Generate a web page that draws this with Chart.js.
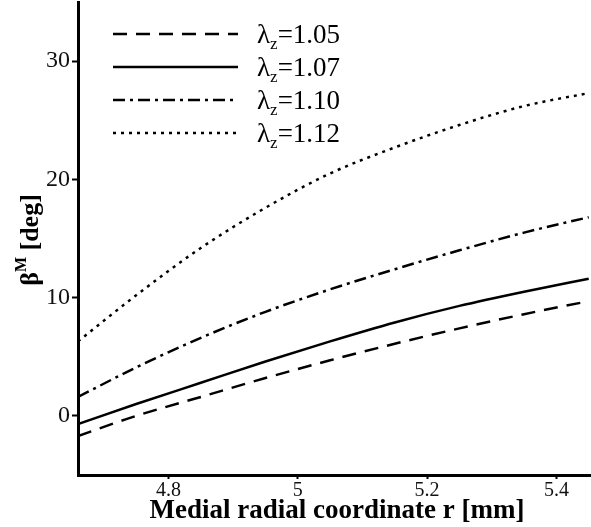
<!DOCTYPE html>
<html>
<head>
<meta charset="utf-8">
<script src="https://cdn.jsdelivr.net/npm/chart.js@4.4.0/dist/chart.umd.min.js"></script>
<style>
  body { margin: 0; background: #fff; }
  #wrap { width: 591px; height: 527px; position: relative; }
</style>
</head>
<body>
<div id="wrap"><canvas id="betaChart"></canvas></div>
<script>
// radial coordinate r [mm]
const razeR = [4.66, 4.75, 4.85, 4.95, 5.05, 5.15, 5.25, 5.35, 5.45];
// beta^M [deg] for each lambda_z
const beta105 = [-1.7, 0.0, 1.6, 3.2, 4.7, 6.1, 7.4, 8.6, 9.7];
const beta107 = [-0.7, 1.0, 2.8, 4.6, 6.3, 7.9, 9.3, 10.5, 11.6];
const beta110 = [1.6, 4.1, 6.6, 8.8, 10.7, 12.4, 14.0, 15.5, 16.8];
const beta112 = [6.3, 10.2, 14.2, 17.6, 20.5, 22.7, 24.6, 26.2, 27.3];
const lambdaLabels = ['1.05', '1.07', '1.10', '1.12'];
const xTicks = [4.8, 5, 5.2, 5.4];
const yTicks = [0, 10, 20, 30];

const serif = '"Liberation Serif", "DejaVu Serif", serif';

function puncte(valori) {
    return razeR.map((r, i) => ({ x: r, y: valori[i] }));
}

const stiluri = [[14, 9], [], [12, 5, 3, 5], [3, 5]];
const serii = [beta105, beta107, beta110, beta112];

const datasets = serii.map((s, i) => ({
    label: lambdaLabels[i],
    data: puncte(s),
    borderColor: '#000',
    borderWidth: 2.5,
    borderDash: stiluri[i],
    pointRadius: 0,
    fill: false,
    cubicInterpolationMode: 'monotone'
}));

// legenda si titlurile axelor (cu indici / exponenti)
const textePlugin = {
    id: 'texte',
    afterDraw(chart) {
        const ctx = chart.ctx;
        ctx.save();
        ctx.fillStyle = '#000';
        ctx.strokeStyle = '#000';

        chart.data.datasets.forEach((ds, i) => {
            const y = 34 + i * 33;
            ctx.beginPath();
            ctx.lineWidth = 2.5;
            ctx.setLineDash(ds.borderDash);
            ctx.moveTo(113, y);
            ctx.lineTo(238, y);
            ctx.stroke();
            ctx.setLineDash([]);

            ctx.textBaseline = 'alphabetic';
            ctx.textAlign = 'left';
            ctx.font = '27px ' + serif;
            let x = 257;
            const base = y + 9;
            ctx.fillText('λ', x, base);
            x += ctx.measureText('λ').width;
            ctx.font = '17px ' + serif;
            ctx.fillText('z', x, base + 6);
            x += ctx.measureText('z').width;
            ctx.font = '27px ' + serif;
            ctx.fillText('=' + ds.label, x, base);
        });

        // titlu axa x
        ctx.font = 'bold 27px ' + serif;
        ctx.textAlign = 'center';
        ctx.textBaseline = 'alphabetic';
        ctx.fillText('Medial radial coordinate r [mm]', 337, 518);

        // titlu axa y
        ctx.translate(29, 240);
        ctx.rotate(-Math.PI / 2);
        ctx.textAlign = 'left';
        const fMare = 'bold 26px ' + serif;
        const fMic = 'bold 16px ' + serif;
        ctx.font = fMare;
        const w1 = ctx.measureText('β').width;
        const w3 = ctx.measureText(' [deg]').width;
        ctx.font = fMic;
        const w2 = ctx.measureText('M').width;
        let x = -(w1 + w2 + w3) / 2;
        ctx.font = fMare;
        ctx.fillText('β', x, 9);
        x += w1;
        ctx.font = fMic;
        ctx.fillText('M', x, -3);
        x += w2;
        ctx.font = fMare;
        ctx.fillText(' [deg]', x, 9);
        ctx.restore();
    }
};

const ctxBeta = document.getElementById('betaChart').getContext('2d');
new Chart(ctxBeta, {
    type: 'line',
    data: { datasets: datasets },
    options: {
        responsive: true,
        maintainAspectRatio: false,
        animation: false,
        layout: { padding: { top: 2, right: 1, left: 0, bottom: 0 } },
        plugins: { legend: { display: false }, tooltip: { enabled: false } },
        scales: {
            x: {
                type: 'linear',
                min: 4.66,
                max: 5.452,
                afterBuildTicks: s => { s.ticks = xTicks.map(v => ({ value: v })); },
                afterFit: s => { s.height = 52; s.paddingLeft = 0; s.paddingRight = 0; },
                grid: { drawOnChartArea: false, drawTicks: true, tickLength: 4, color: '#000', tickWidth: 2 },
                border: { display: true, color: '#000', width: 3 },
                ticks: {
                    color: '#111', padding: 0, maxRotation: 0,
                    font: { family: serif, size: 20 },
                    callback: v => String(v)
                }
            },
            y: {
                min: -5,
                max: 35,
                afterBuildTicks: s => { s.ticks = yTicks.map(v => ({ value: v })); },
                afterFit: s => { s.width = 78; s.paddingTop = 0; s.paddingBottom = 0; },
                grid: { drawOnChartArea: false, drawTicks: true, tickLength: 6, color: '#000', tickWidth: 2 },
                border: { display: true, color: '#000', width: 3 },
                ticks: { color: '#111', padding: 2, font: { family: serif, size: 24 } }
            }
        }
    },
    plugins: [textePlugin]
});
</script>
</body>
</html>
